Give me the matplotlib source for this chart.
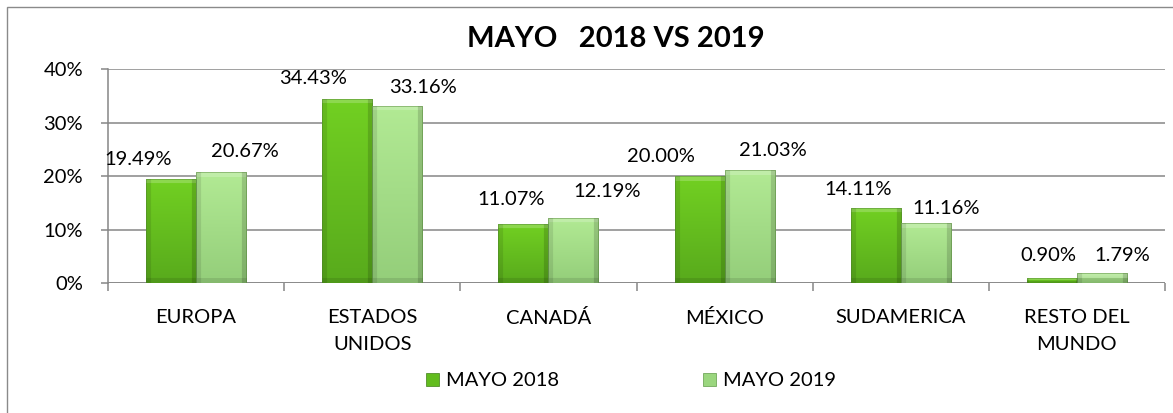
import numpy as np
import matplotlib
matplotlib.use("Agg")
import matplotlib.pyplot as plt
from matplotlib.patches import Rectangle, Patch
from matplotlib.ticker import FixedLocator, PercentFormatter

categories = ["EUROPA", "ESTADOS\nUNIDOS", "CANADÁ", "MÉXICO", "SUDAMERICA", "RESTO DEL\nMUNDO"]
mayo_2018 = [19.49, 34.43, 11.07, 20.00, 14.11, 0.90]
mayo_2019 = [20.67, 33.16, 12.19, 21.03, 11.16, 1.79]
series_names = ["MAYO 2018", "MAYO 2019"]
title = "MAYO   2018 VS 2019"

# label offsets (pixels) as placed in the reference
dx18 = [-33, -34, -12, -39, -18, -4]
dy18 = [19, 20, 24, 20, 18, 23]
dx19 = [24, 26, 34, 23, 20, 20]
dy19 = [21, 18, 26, 20, 15, 18]

FONT = ["Lato", "DejaVu Sans"]
plt.rcParams["font.family"] = FONT
FS = 14.5
GRID = "#868686"

W, H, DPI = 1173, 413, 100
fig = plt.figure(figsize=(W / DPI, H / DPI), dpi=DPI)
ax = fig.add_axes([108 / W, 1 - 283 / H, (1165 - 108) / W, (283 - 69) / H])

x = np.arange(len(categories))
bw = 50 / 176
b18 = ax.bar(x - bw / 2, mayo_2018, bw, color="#66c21e", zorder=3, linewidth=0)
b19 = ax.bar(x + bw / 2, mayo_2019, bw, color="#a8e48a", zorder=3, linewidth=0)

ax.set_xlim(-0.5, len(categories) - 0.5)
ax.set_ylim(0, 40)
ax.set_yticks([0, 10, 20, 30, 40])
ax.yaxis.set_major_formatter(PercentFormatter(decimals=0))
ax.grid(axis="y", color=GRID, linewidth=1.1, zorder=0)
for s in ["top", "right", "bottom"]:
    ax.spines[s].set_visible(False)
ax.spines["left"].set_color(GRID)
ax.spines["left"].set_linewidth(1.1)
ax.axhline(0, color=GRID, linewidth=1.1, zorder=2)
ax.tick_params(axis="y", length=5, width=1.1, color=GRID, pad=13, labelsize=FS)
ax.set_xticks(x)
ax.set_xticklabels(categories, fontsize=FS, linespacing=1.75)
ax.tick_params(axis="x", which="major", length=0, pad=18.5)
ax.xaxis.set_minor_locator(FixedLocator(np.arange(len(categories) + 1) - 0.5))
ax.tick_params(axis="x", which="minor", length=6, width=1.1, color=GRID)

fig.canvas.draw()


def bevel_image(wpx, hpx, top, bottom):
    wpx = max(int(round(wpx)), 2)
    hpx = max(int(round(hpx)), 2)
    top = np.array(matplotlib.colors.to_rgb(top))
    bottom = np.array(matplotlib.colors.to_rgb(bottom))
    t = np.linspace(0, 1, hpx)[:, None, None]
    img = top * (1 - t) + bottom * t
    img = np.repeat(img, wpx, axis=1)
    bv = min(5, hpx // 2, wpx // 4)
    if bv >= 1:
        img[:bv, :, :] = img[:bv, :, :] * 0.8 + 0.2
        img[:, :bv, :] *= 0.9
        img[:, -bv:, :] *= 0.85
        img[-bv:, :, :] *= 0.9
    return np.clip(img, 0, 1)


def shade(bars, top, bottom):
    for p in bars:
        x0, y0 = p.get_x(), p.get_y()
        w, h = p.get_width(), p.get_height()
        (px0, py0), (px1, py1) = ax.transData.transform([(x0, y0), (x0 + w, y0 + h)])
        img = bevel_image(px1 - px0, py1 - py0, top, bottom)
        im = ax.imshow(img, extent=(x0, x0 + w, y0, y0 + h), aspect="auto",
                       interpolation="bilinear", zorder=4)
        im.set_clip_path(p)
        ax.add_patch(Rectangle((x0, y0), w, h, fill=False, edgecolor="#4a7a30",
                               linewidth=0.5, alpha=0.6, zorder=5))


shade(b18, "#72d022", "#58aa1c")
shade(b19, "#b2ea94", "#94ce7a")
ax.set_xlim(-0.5, len(categories) - 0.5)
ax.set_ylim(0, 40)

for i in range(len(categories)):
    ax.annotate(f"{mayo_2018[i]:.2f}%", (x[i] - bw / 2, mayo_2018[i]),
                xytext=(dx18[i] * 0.72, dy18[i] * 0.72), textcoords="offset points",
                ha="center", va="center", fontsize=FS, zorder=6)
    ax.annotate(f"{mayo_2019[i]:.2f}%", (x[i] + bw / 2, mayo_2019[i]),
                xytext=(dx19[i] * 0.72, dy19[i] * 0.72), textcoords="offset points",
                ha="center", va="center", fontsize=FS, zorder=6)

fig.text(616 / W, 1 - 39 / H, title, ha="center", va="center",
         fontsize=21, fontweight="bold")

handles = [Patch(facecolor="#62bc1e", edgecolor="#3f7f18", linewidth=0.5),
           Patch(facecolor="#9ad67e", edgecolor="#5f9a48", linewidth=0.5)]
fig.legend(handles, series_names, loc="center", bbox_to_anchor=(631 / W, 1 - 381 / H),
           ncol=2, frameon=False, fontsize=FS, handlelength=0.65, handleheight=0.65,
           handletextpad=0.35, columnspacing=7.1)

fig.patches.append(Rectangle((7 / W, -0.05), 1.2, 1 - 7 / H + 0.05,
                             transform=fig.transFigure, fill=False,
                             edgecolor="#8a8a8a", linewidth=1.0))

fig.savefig("out.png", dpi=DPI)
